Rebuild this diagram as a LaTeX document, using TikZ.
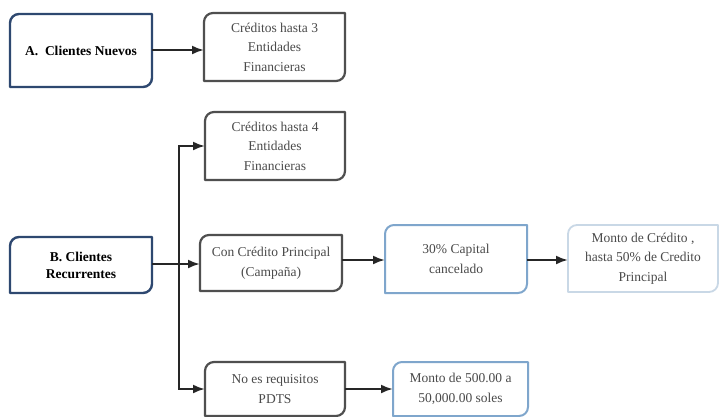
\documentclass[tikz,border=0pt]{standalone}
\usepackage{fontspec}
\setmainfont{Liberation Serif}
\usetikzlibrary{arrows.meta}
\definecolor{navy}{HTML}{2E4870}
\definecolor{greyb}{HTML}{4F4F4F}
\definecolor{lblue}{HTML}{7FA6CC}
\definecolor{pblue}{HTML}{C9D8E6}
\definecolor{txt}{HTML}{4A4A4A}
\tikzset{
  every node/.style={inner sep=0pt, outer sep=0pt},
  lbl/.style={align=center, text=txt, font=\fontsize{13.5}{19.5}\selectfont},
  blbl/.style={align=center, text=black, font=\bfseries\fontsize{13.5}{17}\selectfont},
  arr/.style={line width=2.2pt, draw=black!85, -{Latex[length=12pt,width=9pt]}},
}
\newcommand\dbox[2]{%
  \draw[#2, line join=round] ([yshift=-9pt]#1.north west) arc[start angle=180,end angle=90,radius=9pt]
    -- (#1.north east) -- ([yshift=9pt]#1.south east) arc[start angle=0,end angle=-90,radius=9pt]
    -- (#1.south west) -- cycle;}
\begin{document}
\begin{tikzpicture}[x=1pt,y=1pt]
\fill[white] (0,0) rectangle (719,-416);
\useasboundingbox (0,0) rectangle (719,-416);
% nodes
\node[blbl, minimum width=142, minimum height=73] (A) at (81,-50.5) {A.\ \ Clientes Nuevos};
\node[lbl, minimum width=141, minimum height=68] (C3) at (274.5,-47) {Créditos hasta 3\\Entidades\\Financieras};
\node[lbl, minimum width=140, minimum height=68] (C4) at (275,-146) {Créditos hasta 4\\Entidades\\Financieras};
\node[blbl, minimum width=142, minimum height=56] (B) at (81,-265) {B. Clientes\\Recurrentes};
\node[lbl, minimum width=142, minimum height=56] (Con) at (271,-263) {Con Crédito Principal\\(Campaña)};
\node[lbl, minimum width=142, minimum height=68] (Cap) at (456,-259) {30\% Capital\\cancelado};
\node[lbl, minimum width=150, minimum height=67] (Mon) at (643,-258.5) {Monto de Crédito ,\\hasta 50\% de Credito\\Principal};
\node[lbl, minimum width=140, minimum height=54] (No) at (275,-389) {No es requisitos\\PDTS};
\node[lbl, minimum width=135, minimum height=54] (M5) at (460.5,-389) {Monto de 500.00 a\\50,000.00 soles};
\coordinate (J) at (179,-264);
% boxes
\dbox{A}{draw=navy, line width=2.4pt}
\dbox{B}{draw=navy, line width=2.4pt}
\dbox{C3}{draw=greyb, line width=2.2pt}
\dbox{C4}{draw=greyb, line width=2.2pt}
\dbox{Con}{draw=greyb, line width=2.2pt}
\dbox{No}{draw=greyb, line width=2.2pt}
\dbox{Cap}{draw=lblue, line width=2pt}
\dbox{M5}{draw=lblue, line width=2pt}
\dbox{Mon}{draw=pblue, line width=1.8pt}
% connectors
\draw[arr] (A.east |- 0,-50) -- (C3.west |- 0,-50);
\draw[arr] (B.east |- J) -- (Con.west |- J);
\draw[arr] (J) |- (C4.west);
\draw[arr] (J) |- (No.west);
\draw[arr] (Con.east |- 0,-260) -- (Cap.west |- 0,-260);
\draw[arr] (Cap.east |- 0,-260) -- (Mon.west |- 0,-260);
\draw[arr] (No.east |- 0,-389) -- (M5.west |- 0,-389);
\end{tikzpicture}
\end{document}
